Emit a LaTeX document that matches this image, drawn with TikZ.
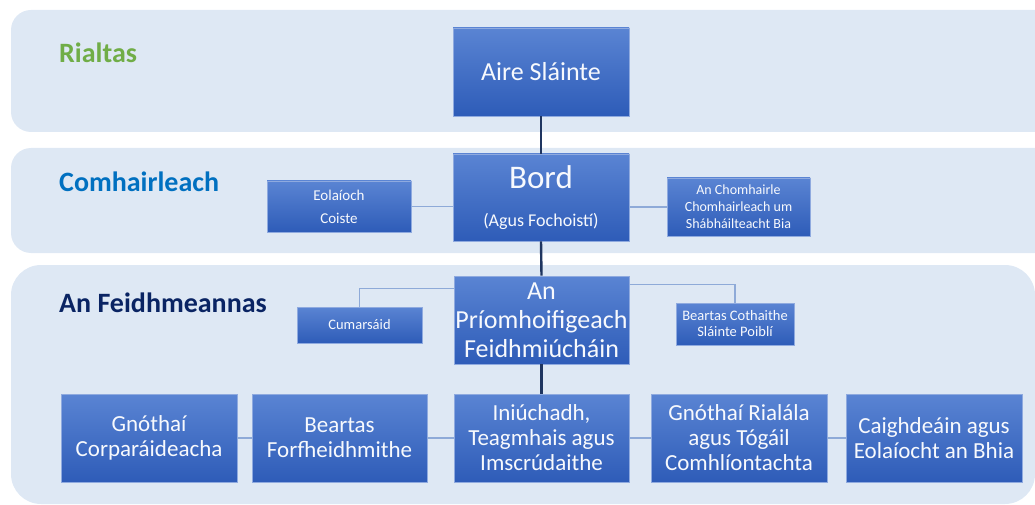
\documentclass[tikz,border=0pt]{standalone}
\usepackage{fontspec}
\setmainfont{Carlito}

\definecolor{bandfill}{HTML}{DEE8F4}
\definecolor{boxtop}{HTML}{5A84D3}
\definecolor{boxbot}{HTML}{2E5CB8}
\definecolor{boxline}{HTML}{8FAADF}
\definecolor{linkline}{HTML}{8EAAD8}
\definecolor{trunkline}{HTML}{1F3560}
\definecolor{govgreen}{HTML}{70AD47}
\definecolor{advblue}{HTML}{0070C0}
\definecolor{execnavy}{HTML}{0A2463}

\begin{document}
\begin{tikzpicture}[x=1pt,y=-1pt,
    box/.style={draw=boxline, line width=0.7pt, top color=boxtop, bottom color=boxbot,
                text=white!95!boxtop, align=center, inner sep=0pt},
    level/.style={anchor=base west, inner sep=0pt, font=\bfseries\fontsize{28}{28}\selectfont},
    trunk/.style={trunkline, line width=2.4pt},
    link/.style={linkline, line width=1.1pt}]

    \clip (0,0) rectangle (1035,505);

    % bands
    \fill [bandfill, rounded corners=20pt] (11,10) rectangle (1070,132);
    \fill [bandfill, rounded corners=20pt] (11,148) rectangle (1070,253);
    \fill [bandfill, rounded corners=30pt] (11,265) rectangle (1035,504);

    \node [level, text=govgreen] (rialtas) at (59,63) {Rialtas};
    \node [level, text=advblue] (comh) at (59,192) {Comhairleach};
    \node [level, text=execnavy] (feidh) at (59,312) {An Feidhmeannas};

    % boxes
    \node [box, minimum width=176pt, minimum height=88pt, font=\fontsize{26}{30}\selectfont]
        (aire) at (541,72) {Aire Sláinte};
    \node [box, minimum width=176pt, minimum height=87pt]
        (bord) at (541,197.5) {\fontsize{33}{33}\selectfont Bord\\[23pt]\fontsize{18}{20}\selectfont (Agus Fochoistí)};
    \node [box, minimum width=144pt, minimum height=51pt, font=\fontsize{15}{23}\selectfont]
        (eol) at (339,206.5) {Eolaíoch\\Coiste};
    \node [box, minimum width=143pt, minimum height=58pt, font=\fontsize{14}{17}\selectfont]
        (chom) at (738.5,207) {An Chomhairle\\Chomhairleach um\\Shábháilteacht Bia};

    \node [box, minimum width=175pt, minimum height=88pt, font=\fontsize{26}{29}\selectfont]
        (ceo) at (541.5,320) {An\\Príomhoifigeach\\Feidhmiúcháin};
    \node [box, minimum width=125pt, minimum height=36pt, font=\fontsize{14.5}{17}\selectfont]
        (cum) at (359.5,325) {Cumarsáid};
    \node [box, minimum width=118pt, minimum height=42pt, font=\fontsize{14.5}{16}\selectfont]
        (cot) at (735,324) {Beartas Cothaithe\\Sláinte Poiblí};

    \node [box, minimum width=176pt, minimum height=88pt, font=\fontsize{23}{25}\selectfont]
        (corp) at (149,438) {Gnóthaí\\Corparáideacha};
    \node [box, minimum width=175pt, minimum height=88pt, font=\fontsize{23}{25}\selectfont]
        (forf) at (339.5,438) {Beartas\\Forfheidhmithe};
    \node [box, minimum width=175pt, minimum height=88pt, font=\fontsize{23}{25}\selectfont]
        (iniu) at (541.5,438) {Iniúchadh,\\Teagmhais agus\\Imscrúdaithe};
    \node [box, minimum width=176pt, minimum height=88pt, font=\fontsize{23}{25}\selectfont]
        (rial) at (739,438) {Gnóthaí Rialála\\agus Tógáil\\Comhlíontachta};
    \node [box, minimum width=176pt, minimum height=88pt, font=\fontsize{23}{25}\selectfont]
        (caig) at (934,438) {Caighdeáin agus\\Eolaíocht an Bhia};

    % connectors
    \draw [trunk] (aire.south) -- (bord.north);
    \draw [trunk] (bord.south) -- (ceo.north);
    \draw [trunk] (ceo.south) -- (iniu.north);

    \draw [link] (eol.east) -- (eol.east -| bord.west);
    \draw [link] (chom.west) -- (chom.west -| bord.east);
    \draw [link] (cum.north) |- ([yshift=-13pt]ceo.north west);
    \draw [link] (cot.north) |- ([yshift=-9pt]ceo.north east);

    \draw [link] (corp.east) -- (forf.west);
    \draw [link] (forf.east) -- (iniu.west);
    \draw [link] (iniu.east) -- (rial.west);
    \draw [link] (rial.east) -- (caig.west);

\end{tikzpicture}
\end{document}
